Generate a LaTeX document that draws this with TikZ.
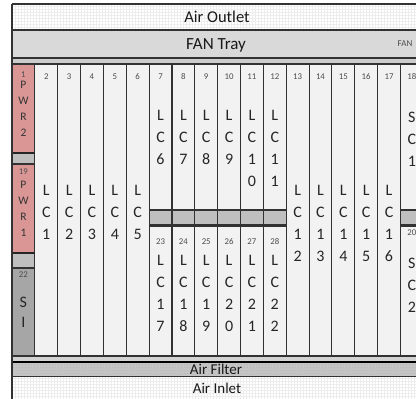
\documentclass[tikz,border=0pt]{standalone}
\usepackage{fontspec}
\setmainfont{Carlito}
\usetikzlibrary{patterns}

\definecolor{slotfill}{RGB}{242,242,242}
\definecolor{pwrfill}{RGB}{217,150,148}
\definecolor{bandfill}{RGB}{191,191,191}
\definecolor{fanfill}{RGB}{217,217,217}
\definecolor{sifill}{RGB}{166,166,166}
\definecolor{edge}{RGB}{50,50,50}

% letters of a card, one under the other
\newcommand\cardlabel[6]{\foreach \c [count=\i] in {#6} {\node[#1] (#2-\i) at ({#3},{#4+#5*(\i-1)}) {\c};}}
\def\w{22.85}

\begin{document}
\begin{tikzpicture}[x=1pt, y=-1pt,
	slotbox/.style={draw=edge, line width=1.1pt},
	num/.style={font=\fontsize{8.8}{9}\selectfont, text=black!70, inner sep=0pt, text height=5.6pt, text depth=0pt},
	big/.style={font=\fontsize{16}{16}\selectfont, text=black!85, inner sep=0pt, text height=10.3pt, text depth=0pt},
	pwr/.style={font=\fontsize{11.5}{12}\selectfont, text=black!80, inner sep=0pt, text height=7.4pt, text depth=0pt},
	title/.style={font=\fontsize{16.5}{17}\selectfont, text=black!90, inner sep=0pt, text height=10.6pt, text depth=0pt}]
	\useasboundingbox (0,0) rectangle (416,399);
	\clip (0,0) rectangle (416,399);
	% top: outlet and fan tray
	\fill[white] (12,4) rectangle (430,30);
	\fill[pattern=grid, pattern color=gray!14] (12,4) rectangle (430,30);
	\fill[fanfill] (12,30) rectangle (430,58);
	\fill[bandfill!80] (12,58) rectangle (430,64);
	\draw[edge, line width=1.3pt] (12,4) -- (430,4) (12,30) -- (430,30) (12,58) -- (430,58);
	\draw[edge, line width=0.7pt] (12,64) -- (430,64);
	% full height cards
	\foreach \k in {2,...,6,13,14,...,17}
	{\pgfmathsetmacro\xl{12+\w*(\k-1)}
		\draw[slotbox, fill=slotfill] (\xl,64) rectangle ++(\w,292);}
	% half height cards
	\foreach \k in {7,...,12,18}
	{\pgfmathsetmacro\xl{12+\w*(\k-1)}
		\draw[slotbox, fill=slotfill] (\xl,64) rectangle ++(\w,146);
		\draw[slotbox, fill=bandfill] (\xl,210) rectangle ++(\w,16);
		\draw[slotbox, fill=slotfill] (\xl,226) rectangle ++(\w,130);}
	\draw[edge, line width=1.5pt] (149,210) -- (287,210) (400,210) -- (430,210);
	\draw[edge, line width=1.5pt] (149,224.5) -- (287,224.5) (400,224.5) -- (430,224.5);
	% power and SI column
	\draw[slotbox, fill=pwrfill] (12,64) rectangle (34.85,153);
	\draw[slotbox, fill=bandfill] (12,153) rectangle (34.85,164);
	\draw[slotbox, fill=pwrfill] (12,164) rectangle (34.85,253);
	\draw[slotbox, fill=bandfill] (12,253) rectangle (34.85,268);
	\draw[slotbox, fill=sifill] (12,268) rectangle (34.85,356);
	\draw[black!85, line width=1.5pt] (12,153) -- (34.85,153) (12,253) -- (34.85,253);
	% bottom: filter and inlet
	\fill[bandfill!70] (12,356) rectangle (430,361);
	\draw[edge, line width=0.7pt] (12,356) -- (430,356);
	\fill[gray!45] (12,362) rectangle (430,376);
	\fill[pattern=crosshatch dots, pattern color=gray!60] (12,362) rectangle (430,376);
	\fill[white] (12,376) rectangle (430,399);
	\fill[pattern=grid, pattern color=gray!14] (12,376) rectangle (430,399);
	\draw[black, line width=1.9pt] (12,362) -- (430,362);
	\draw[edge, line width=0.9pt] (12,376) -- (430,376);
	\draw[edge, line width=1.5pt] (12,4) -- (12,399);
	% titles
	\node[title] (outlet) at (217,17) {Air Outlet};
	\node[title, font=\fontsize{17}{17}\selectfont] (fantray) at (216,44) {FAN Tray};
	\node[num, font=\fontsize{9}{9}\selectfont] (fan) at (405,44) {FAN};
	\node[title, font=\fontsize{15}{15}\selectfont] (filter) at (216,369) {Air Filter};
	\node[title, font=\fontsize{15}{15}\selectfont] (inlet) at (217,388) {Air Inlet};
	% slot numbers
	\foreach \k in {2,...,18}
	\node[num] (n\k) at ({12+\w*(\k-0.5)},77) {\k};
	\node[num] (n1) at ({12+\w*0.5},75) {1};
	\node[num] (n19) at ({12+\w*0.5},172) {19};
	\node[num] (n22) at ({12+\w*0.5},275) {22};
	\node[num] (n20) at ({12+\w*17.5},233) {20};
	\foreach \k in {23,...,28}
	\node[num] (n\k) at ({12+\w*(\k-16.5)},242) {\k};
	% card names
	\foreach \k in {2,...,6}
	{\pgfmathtruncatemacro\d{\k-1}
		\cardlabel{big}{lc\d}{12+\w*(\k-0.5)}{190}{22}{L,C,\d}}
	\foreach \k in {7,...,10}
	{\pgfmathtruncatemacro\d{\k-1}
		\cardlabel{big}{lc\d}{12+\w*(\k-0.5)}{115}{22}{L,C,\d}}
	\cardlabel{big}{lc10}{12+\w*10.5}{115}{22}{L,C,1,0}
	\cardlabel{big}{lc11}{12+\w*11.5}{115}{22}{L,C,1,1}
	\foreach \k in {13,...,17}
	{\pgfmathtruncatemacro\d{\k-11}
		\cardlabel{big}{lc1\d}{12+\w*(\k-0.5)}{190}{22}{L,C,1,\d}}
	\foreach \k/\a/\b in {7/1/7,8/1/8,9/1/9,10/2/0,11/2/1,12/2/2}
	{\cardlabel{big}{lc\a\b}{12+\w*(\k-0.5)}{260}{22}{L,C,\a,\b}}
	\cardlabel{pwr}{pwr2}{12+\w*0.5}{85}{16}{P,W,R,2}
	\cardlabel{pwr}{pwr1}{12+\w*0.5}{185}{16}{P,W,R,1}
	\cardlabel{big}{si}{12+\w*0.5}{302}{20}{S,I}
	\cardlabel{big}{sc1}{12+\w*17.5}{117}{22}{S,C,1}
	\cardlabel{big}{sc2}{12+\w*17.5}{263}{22}{S,C,2}
\end{tikzpicture}
\end{document}
